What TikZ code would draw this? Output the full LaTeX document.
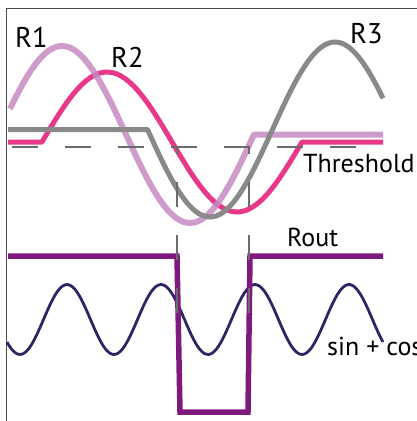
\documentclass[tikz,border=0pt]{standalone}
\usepackage{fontspec}
\setmainfont{PT Sans}
\definecolor{WaveLilac}{HTML}{C68AC2}
\definecolor{WavePink}{HTML}{E8388A}
\definecolor{WaveGray}{HTML}{898989}
\definecolor{WavePurple}{HTML}{7E1A7E}
\definecolor{WaveNavy}{HTML}{2E2566}
\definecolor{WaveDash}{HTML}{6B6B6B}
\definecolor{WaveFrame}{HTML}{4A4A4A}

\begin{document}
\begin{tikzpicture}[x=1pt,y=-1pt]
    \tikzset{lbl/.style={inner sep=0pt,anchor=base west,font=\fontsize{26}{30}\selectfont},
      big/.style={lbl,font=\fontsize{28.5}{32}\selectfont},
      wave/.style={line width=5pt,line join=round},
      thr/.style={WaveDash,line width=2pt,dash pattern=on 26pt off 27pt}}
    \clip (0,0) rectangle (417,421);
    \draw[WaveFrame,line width=1pt] (6.5,421) -- (6.5,8) -- (417,8);
    % the three input waves
    \draw[wave,WavePink] (8,142) -- (42,142) -- plot[domain=42:302,samples=60] (\x,{142-70*cos((\x-107)/130*180)}) -- (383,142);
    \draw[wave,WaveLilac,line width=6pt,opacity=0.85] plot[domain=10:254,samples=70] (\x,{134.5-88.5*cos((\x-62)/128*180)}) -- (383,134.5);
    \draw[wave,WaveGray] (8,129.5) -- plot[domain=147.5:383,samples=70] (\x,{129.5+87.5*cos((\x-210)/125*180)});
    \draw[thr] (12,147) -- (358,147);
    % output and sum
    \draw[WaveNavy,line width=2.8pt] plot[domain=7:383,samples=150] (\x,{319.5+35*cos((\x-20)/94*360)});
    \draw[WavePurple,line width=5.5pt] (8,256) -- (177,256) -- (180,412) -- (248,412) -- (250,256) -- (383,256);
    \foreach \xm in {177,249}
      \draw[WaveDash,line width=2pt,dash pattern=on 25pt off 28pt,dash phase=18pt] (\xm,147) -- (\xm,316);
    \node[big] (r1) at (15,47) {R1};
    \node[big] (r2) at (111,67) {R2};
    \node[big] (r3) at (350,43) {R3};
    \node[lbl] (thresh) at (303,172) {Threshold};
    \node[lbl] (rout) at (287,246) {Rout};
    \node[lbl] (sumwave) at (327,355) {sin + cos};
  \end{tikzpicture}
\end{document}
